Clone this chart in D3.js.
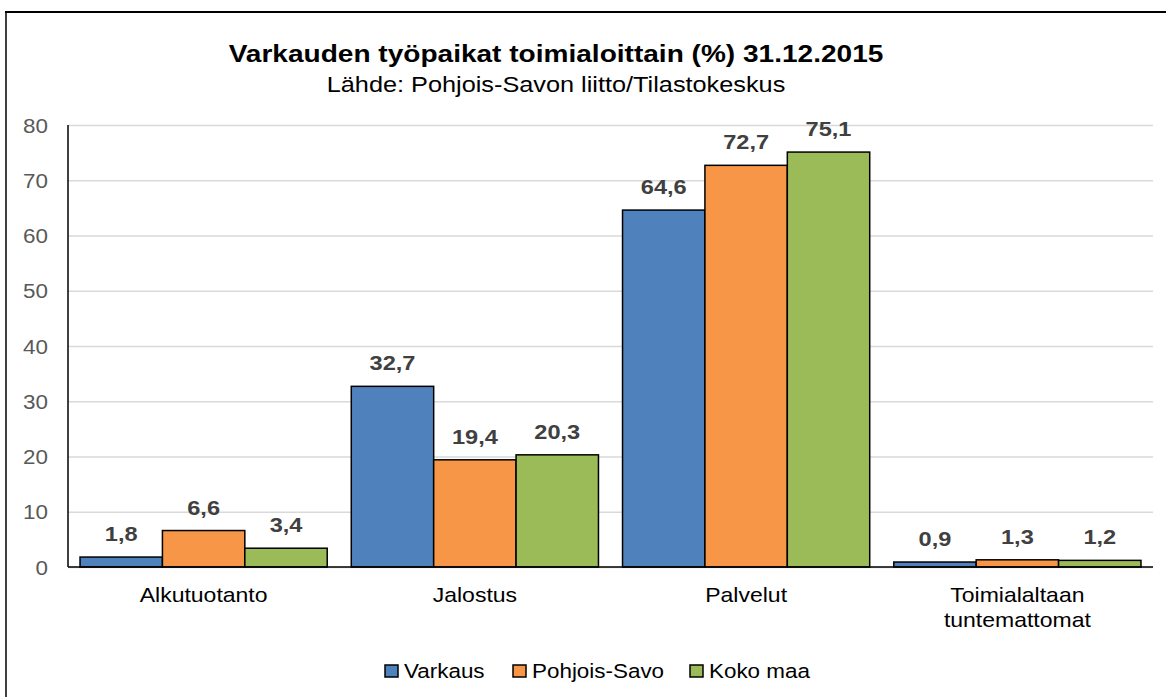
<!DOCTYPE html>
<html>
<head>
<meta charset="utf-8">
<script src="https://cdn.jsdelivr.net/npm/d3@7"></script>
<style>
  html, body { margin: 0; padding: 0; background: #fff; }
  svg { display: block; font-family: "Liberation Sans", Arial, sans-serif; }
</style>
</head>
<body>
<svg id="chart" width="1166" height="697"></svg>
<script>
// ---- data ----
const titleText = "Varkauden työpaikat toimialoittain (%) 31.12.2015";
const subtitleText = "Lähde: Pohjois-Savon liitto/Tilastokeskus";
const categories = ["Alkutuotanto", "Jalostus", "Palvelut", "Toimialaltaan tuntemattomat"];
const seriesNames = ["Varkaus", "Pohjois-Savo", "Koko maa"];
const varkaus = [1.8, 32.7, 64.6, 0.9];
const pohjoisSavo = [6.6, 19.4, 72.7, 1.3];
const kokoMaa = [3.4, 20.3, 75.1, 1.2];
const yTicks = [0, 10, 20, 30, 40, 50, 60, 70, 80];
const colors = ["#4f81bd", "#f79646", "#9bbb59"];

(function () {
const seriesValues = [varkaus, pohjoisSavo, kokoMaa];
const table = categories.map((c, i) => ({
  category: c,
  values: seriesNames.map((s, j) => ({ series: s, value: seriesValues[j][i] }))
}));

const SX = 1.15; // horizontal stretch of text in the reference
const svg = d3.select("#chart");
const fi = d3.formatLocale({ decimal: ",", thousands: " ", grouping: [3], currency: ["", ""] });
const fmt = fi.format(".1f");

function txt(parent, x, y, str) {
  return parent.append("text")
    .attr("transform", `translate(${x},${y}) scale(${SX},1)`)
    .text(str);
}

// outer frame
svg.append("line").attr("x1", 5).attr("x2", 1166).attr("y1", 12).attr("y2", 12)
  .attr("stroke", "#000").attr("stroke-width", 2);
svg.append("line").attr("x1", 6).attr("x2", 6).attr("y1", 11).attr("y2", 697)
  .attr("stroke", "#000").attr("stroke-width", 1.5);

// titles
txt(svg, 556, 62, titleText).attr("text-anchor", "middle")
  .attr("font-size", 24.4).attr("font-weight", "bold").attr("fill", "#000");
txt(svg, 556, 92, subtitleText).attr("text-anchor", "middle")
  .attr("font-size", 22).attr("fill", "#000");

// plot area
const pL = 68, pR = 1153, pT = 125, pB = 567;
const y = d3.scaleLinear().domain([0, 80]).range([pB, pT]);
const x0 = d3.scaleBand().domain(categories).range([pL, pR]).paddingInner(0).paddingOuter(0);
const x1 = d3.scaleBand().domain(seriesNames).range([0, x0.bandwidth()]).paddingInner(0).paddingOuter(0.146);

// gridlines
const grid = svg.append("g").attr("transform", `translate(${pL},0)`)
  .call(d3.axisLeft(y).tickValues(yTicks).tickSize(-(pR - pL)).tickFormat(""));
grid.select(".domain").remove();
grid.selectAll("line").attr("stroke", "#d9d9d9").attr("stroke-width", 1.5);

// y tick labels
const yAxis = svg.append("g").attr("transform", `translate(${pL},0)`)
  .call(d3.axisLeft(y).tickValues(yTicks).tickSize(0).tickPadding(0).tickFormat(d3.format("d")));
yAxis.select(".domain").remove();
yAxis.selectAll("text")
  .attr("x", null).attr("dy", null)
  .attr("transform", `translate(-20,7) scale(${SX},1)`)
  .attr("font-size", 19.5).attr("font-family", "Liberation Sans, Arial, sans-serif")
  .attr("fill", "#595959").attr("text-anchor", "end");

// bars
const groups = svg.append("g").selectAll("g").data(table).join("g")
  .attr("transform", d => `translate(${x0(d.category)},0)`);
groups.selectAll("rect").data(d => d.values).join("rect")
  .attr("x", d => x1(d.series))
  .attr("width", x1.bandwidth())
  .attr("y", d => y(d.value))
  .attr("height", d => y(0) - y(d.value))
  .attr("fill", (d, i) => colors[i])
  .attr("stroke", "#000").attr("stroke-width", 1.5);

// data labels
groups.each(function (d) {
  const g = d3.select(this);
  d.values.forEach(v => {
    txt(g, x1(v.series) + x1.bandwidth() / 2, y(v.value) - 16, fmt(v.value))
      .attr("text-anchor", "middle").attr("font-size", 20.5)
      .attr("font-weight", "bold").attr("fill", "#404040");
  });
});

// axes lines
svg.append("line").attr("x1", pL).attr("x2", pL).attr("y1", pT).attr("y2", pB)
  .attr("stroke", "#000").attr("stroke-width", 1.5);
svg.append("line").attr("x1", pL).attr("x2", pR).attr("y1", pB).attr("y2", pB)
  .attr("stroke", "#000").attr("stroke-width", 1.5);

// category labels
const xAxis = svg.append("g").attr("transform", `translate(0,${pB})`)
  .call(d3.axisBottom(x0).tickSize(0).tickPadding(0));
xAxis.select(".domain").remove();
xAxis.selectAll("text").each(function (d) {
  const t = d3.select(this);
  t.text(null).attr("y", null).attr("dy", null)
    .attr("transform", `translate(0,35) scale(${SX},1)`)
    .attr("font-size", 20).attr("font-family", "Liberation Sans, Arial, sans-serif")
    .attr("fill", "#000").attr("text-anchor", "middle");
  const lines = d.length > 14 ? d.split(" ") : [d];
  lines.forEach((ln, i) => t.append("tspan").attr("x", 0).attr("y", i * 25).text(ln));
});

// legend
const legendX = [385, 513, 690];
const legend = svg.append("g");
seriesNames.forEach((s, i) => {
  legend.append("rect").attr("x", legendX[i]).attr("y", 665)
    .attr("width", 13).attr("height", 12)
    .attr("fill", colors[i]).attr("stroke", "#000").attr("stroke-width", 1.5);
  txt(legend, legendX[i] + 19, 678, s).attr("font-size", 19.5).attr("fill", "#000");
});
})();
</script>
</body>
</html>
